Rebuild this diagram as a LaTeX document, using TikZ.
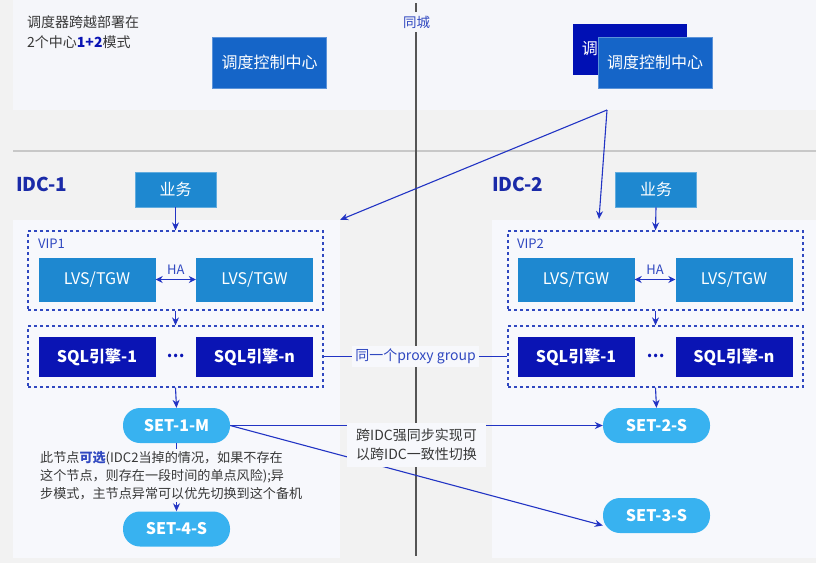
\documentclass[tikz,border=0pt]{standalone}
\usepackage{fontspec}
\setmainfont{Noto Sans CJK SC}
\usetikzlibrary{arrows.meta,calc}
\definecolor{bgc}{HTML}{F2F2F2}
\definecolor{toppanel}{HTML}{F5F6FA}
\definecolor{panelc}{HTML}{F7F8FC}
\definecolor{ctrlblue}{HTML}{1565C8}
\definecolor{ctrldark}{HTML}{0010B4}
\definecolor{midblue}{HTML}{1E88D0}
\definecolor{sqlblue}{HTML}{0A14B4}
\definecolor{setblue}{HTML}{38B2F0}
\definecolor{lineblue}{HTML}{2234C4}
\definecolor{dashblue}{HTML}{3048C0}
\definecolor{idcblue}{HTML}{1A2AA8}
\definecolor{txtgray}{HTML}{383838}
\definecolor{vline}{HTML}{555555}
\definecolor{sepc}{HTML}{C8C8C8}
\tikzset{
  fbox/.style={inner sep=0pt, text=white, font=\fontsize{16}{19}\selectfont},
  ctrlbox/.style={fbox, fill=ctrlblue, draw=ctrlblue!70!white, line width=0.6pt, minimum width=114pt, minimum height=51pt},
  ywbox/.style={fbox, fill=midblue, draw=midblue!70!white, line width=0.6pt, minimum width=81pt, minimum height=35pt},
  lvsbox/.style={fbox, fill=midblue, minimum width=117pt, minimum height=44pt},
  sqlbox/.style={fbox, fill=sqlblue, minimum width=117pt, minimum height=40pt, font=\fontsize{16}{19}\selectfont\bfseries},
  setbox/.style={fbox, fill=setblue, minimum width=107pt, minimum height=35pt, rounded corners=17pt, font=\fontsize{16}{19}\selectfont\bfseries},
  dbox/.style={draw=dashblue, line width=1.3pt, dash pattern=on 3pt off 3pt, inner sep=0pt, minimum width=295pt},
  arr/.style={draw=lineblue, line width=1.1pt, -{Stealth[length=8pt,width=7pt]}},
  darr/.style={draw=lineblue, line width=1.1pt, {Stealth[length=7pt,width=7pt]}-{Stealth[length=7pt,width=7pt]}},
  lbl/.style={inner sep=0pt, font=\fontsize{13}{15}\selectfont, text=dashblue},
  idc/.style={inner sep=0pt, font=\fontsize{19}{21}\selectfont\bfseries, text=idcblue},
}
\begin{document}
\begin{tikzpicture}[x=1pt,y=-1pt]
\useasboundingbox (0,0) rectangle (816,563);
\fill[bgc] (0,0) rectangle (816,563);
\fill[toppanel] (13,0) rectangle (816,110);
\draw[sepc, line width=1.5pt] (13,151) -- (816,151);
\node[fill=panelc, minimum width=327pt, minimum height=338pt, inner sep=0pt] (panelL) at (176.5,389) {};
\node[fill=panelc, minimum width=324pt, minimum height=338pt, inner sep=0pt] (panelR) at (654,389) {};
% vertical divider
\draw[vline, line width=1.2pt] (416,3) -- (416,556);
\node[fill=toppanel, inner ysep=4pt, inner xsep=1pt, font=\fontsize{13.5}{15}\selectfont, text=dashblue] (tc) at (416.5,22) {同城};
% top-left text
\node[inner sep=0pt, anchor=north west, align=left, font=\fontsize{14}{20}\selectfont, text=txtgray] (note) at (27,15)
  {调度器跨越部署在\\2个中心{\bfseries\color{sqlblue}1+2}模式};
% control centers
\node[ctrlbox] (ctrlL) at (269.5,62.5) {调度控制中心};
\node[ctrlbox, fill=ctrldark, draw=ctrldark, minimum width=113pt, minimum height=50pt] (ctrlB) at (629.5,49) {};
\node[fbox, anchor=west] (ctrlBt) at ($(ctrlB.west)+(9,0)$) {调};
\node[ctrlbox] (ctrlR) at (655,62.5) {调度控制中心};
\coordinate (split) at (607,110);
\coordinate (inR) at (599,219);
\draw[arr] (split) -- (panelL.north east);
\draw[arr] (split) -- (inR);
% IDC labels
\node[idc, anchor=west] (idc1) at (16,184) {IDC-1};
\node[idc, anchor=west] (idc2) at (492,184) {IDC-2};
% IDC-1
\node[ywbox] (ywL) at (175.5,189.5) {业务};
\node[dbox, minimum height=79pt] (vip1) at (175.5,270.5) {};
\node[lbl, anchor=west] (vip1l) at (38,244) {VIP1};
\node[lvsbox] (lvs1a) at (97,279.5) {LVS/TGW};
\node[lvsbox] (lvs1b) at (254.5,279.5) {LVS/TGW};
\draw[darr] (lvs1a.east) -- node[lbl, above=4pt] (ha1) {HA} (lvs1b.west);
\node[dbox, minimum height=61pt] (proxy1) at (175.5,356.5) {};
\node[sqlbox] (sql1a) at (97,357) {SQL引擎-1};
\node[sqlbox] (sql1b) at (254.5,357) {SQL引擎-n};
\node[inner sep=0pt, text=sqlblue, font=\fontsize{16}{19}\selectfont\bfseries] (dots1) at (175.5,356) {…};
\draw[arr] (ywL.south) -- (vip1.north);
\draw[arr] (vip1.south) -- (proxy1.north);
% IDC-2
\node[ywbox] (ywR) at (656,189.5) {业务};
\node[dbox, minimum height=79pt] (vip2) at (655.5,270.5) {};
\node[lbl, anchor=west] (vip2l) at (517,244) {VIP2};
\node[lvsbox] (lvs2a) at (576,279.5) {LVS/TGW};
\node[lvsbox] (lvs2b) at (734,279.5) {LVS/TGW};
\draw[darr] (lvs2a.east) -- node[lbl, above=4pt] (ha2) {HA} (lvs2b.west);
\node[dbox, minimum height=61pt] (proxy2) at (655.5,356.5) {};
\node[sqlbox] (sql2a) at (576,357) {SQL引擎-1};
\node[sqlbox] (sql2b) at (734,357) {SQL引擎-n};
\node[inner sep=0pt, text=sqlblue, font=\fontsize{16}{19}\selectfont\bfseries] (dots2) at (655.5,356) {…};
\draw[arr] (ywR.south) -- (vip2.north);
\draw[arr] (vip2.south) -- (proxy2.north);
% proxy group link
\draw[lineblue, line width=1.1pt] (proxy1.east) -- node[fill=panelc, inner sep=3pt, font=\fontsize{14}{16}\selectfont, text=dashblue] (pg) {同一个proxy group} (proxy2.west);
% SETs
\node[setbox] (set1) at (176.5,425.5) {SET-1-M};
\node[setbox] (set4) at (176.5,529) {SET-4-S};
\node[setbox] (set2) at (656.5,425.5) {SET-2-S};
\node[setbox] (set3) at (656.5,515.5) {SET-3-S};
\draw[arr] (proxy1.south) -- (set1.north);
\draw[arr] (proxy2.south) -- (set2.north);
\draw[arr] (set1.east) -- (set2.west);
\draw[arr] (set1.east) -- ($(set3.west)+(0,10)$);
\draw[arr] (set1.south) -- (set4.north);
% explanation text
\node[fill=panelc, inner sep=2pt, anchor=north west, align=left, font=\fontsize{13.1}{18}\selectfont, text=txtgray] (expl) at (38,449)
  {此节点{\bfseries\color{dashblue}可选}(IDC2当掉的情况，如果不存在\\这个节点，则存在一段时间的单点风险);异\\步模式，主节点异常可以优先切换到这个备机};
% sync label
\node[fill=panelc, inner sep=0pt, minimum width=139pt, minimum height=44pt, align=left, font=\fontsize{14}{19}\selectfont, text=txtgray] (sync) at (416.5,445)
  {跨IDC强同步实现可\\以跨IDC一致性切换};
\end{tikzpicture}
\end{document}
